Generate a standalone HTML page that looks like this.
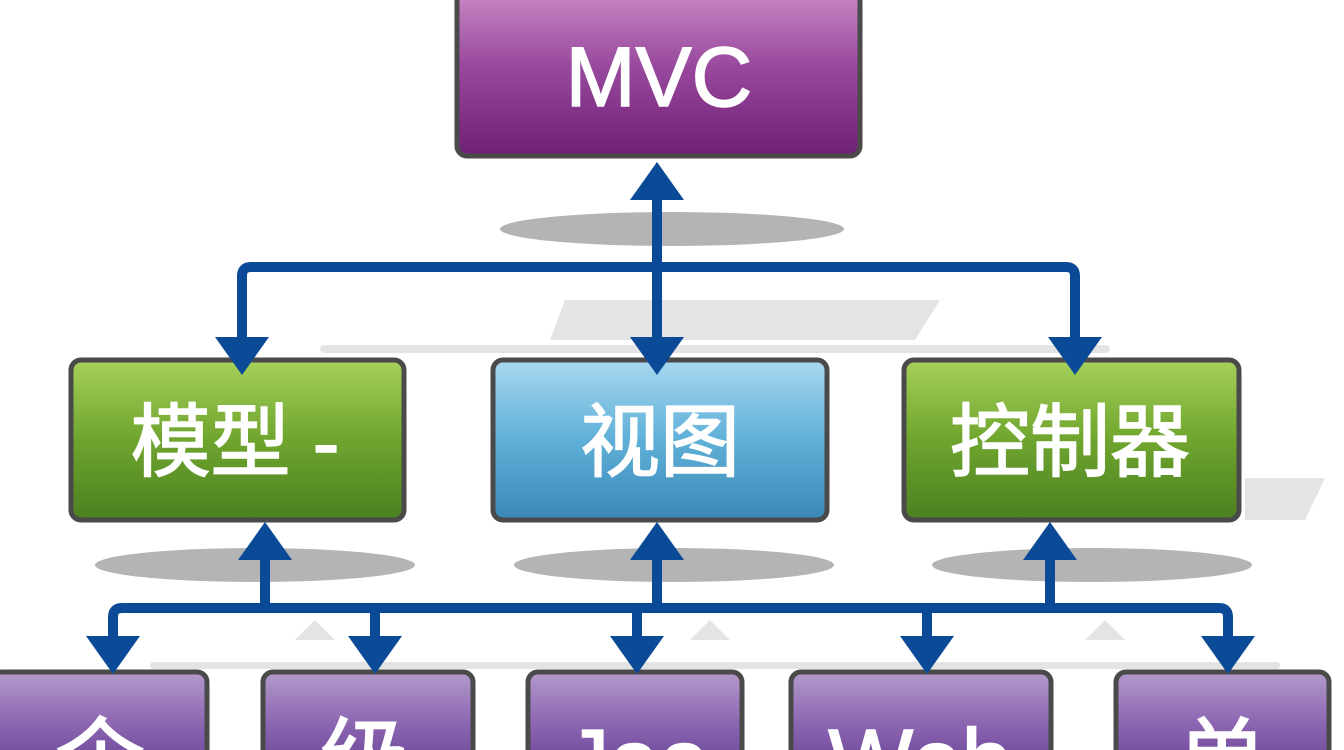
<!DOCTYPE html>
<html><head><meta charset="utf-8"><style>
html,body{margin:0;padding:0;background:#fff;width:1344px;height:750px;overflow:hidden}
svg{display:block}
text{font-family:"Liberation Sans","Noto Sans CJK SC",sans-serif;fill:#fff}
</style></head><body>
<svg width="1344" height="750" viewBox="0 0 1344 750" xmlns="http://www.w3.org/2000/svg" style="overflow:hidden">
<defs>
<linearGradient id="pu" x1="0" y1="0" x2="0" y2="1"><stop offset="0" stop-color="#c98ac6"/><stop offset="0.45" stop-color="#9a4a9e"/><stop offset="1" stop-color="#6e2075"/></linearGradient>
<linearGradient id="gr" x1="0" y1="0" x2="0" y2="1"><stop offset="0" stop-color="#a6d05a"/><stop offset="0.5" stop-color="#6fa52e"/><stop offset="1" stop-color="#4b8020"/></linearGradient>
<linearGradient id="bl" x1="0" y1="0" x2="0" y2="1"><stop offset="0" stop-color="#a8d8f0"/><stop offset="0.5" stop-color="#5fb0d8"/><stop offset="1" stop-color="#3a88b8"/></linearGradient>
<linearGradient id="vi" x1="0" y1="0" x2="0" y2="1"><stop offset="0" stop-color="#b399cc"/><stop offset="0.6" stop-color="#8a64b0"/><stop offset="1" stop-color="#6f4a9a"/></linearGradient>
</defs>
<g fill="#e4e4e4">
<polygon points="565,300 940,300 915,340 550,340"/>
<rect x="320" y="345" width="790" height="8" rx="4"/>
<polygon points="1245,478 1325,478 1305,520 1245,520"/>
<rect x="150" y="662" width="1130" height="7" rx="3"/>
<polygon points="295,640 315,620 335,640"/>
<polygon points="690,640 710,620 730,640"/>
<polygon points="1085,640 1105,620 1125,640"/>
</g>
<g fill="#b4b4b4">
<ellipse cx="672" cy="229" rx="172" ry="17"/>
<ellipse cx="255" cy="565" rx="160" ry="17"/>
<ellipse cx="674" cy="565" rx="160" ry="17"/>
<ellipse cx="1092" cy="565" rx="160" ry="17"/>
</g>
<g stroke="#4a4a4a" stroke-width="5">
<rect x="457" y="-10" width="403" height="166" rx="10" fill="url(#pu)"/>
<rect x="71" y="360" width="333" height="160" rx="10" fill="url(#gr)"/>
<rect x="493" y="360" width="334" height="160" rx="10" fill="url(#bl)"/>
<rect x="904" y="360" width="335" height="160" rx="10" fill="url(#gr)"/>
<rect x="-8" y="672" width="215" height="90" rx="10" fill="url(#vi)"/>
<rect x="263" y="672" width="210" height="90" rx="10" fill="url(#vi)"/>
<rect x="528" y="672" width="214" height="90" rx="10" fill="url(#vi)"/>
<rect x="791" y="672" width="260" height="90" rx="10" fill="url(#vi)"/>
<rect x="1116" y="672" width="213" height="90" rx="10" fill="url(#vi)"/>
</g>
<g text-anchor="middle" stroke="#fff" stroke-width="1.5">
<text x="659" y="106" font-size="84">MVC</text>
<text x="235" y="470" font-size="80">模型 -</text>
<text x="660" y="470" font-size="80">视图</text>
<text x="1070" y="470" font-size="80">控制器</text>
<text x="100" y="792" font-size="90">企</text>
<text x="365" y="792" font-size="90">级</text>
<text x="637" y="792" font-size="90">Jaa</text>
<text x="920" y="792" font-size="90">Web</text>
<text x="1222" y="792" font-size="90">单</text>
</g>
<g fill="none" stroke="#0b4a96" stroke-width="10" stroke-linejoin="round">
<path d="M242 340 V276 Q242 267 251 267 H1066 Q1075 267 1075 276 V340"/>
<line x1="657" y1="195" x2="657" y2="340"/>
<path d="M113 640 V617 Q113 608 122 608 H1219 Q1228 608 1228 617 V640"/>
<line x1="265" y1="555" x2="265" y2="608"/>
<line x1="657" y1="555" x2="657" y2="608"/>
<line x1="1050" y1="555" x2="1050" y2="608"/>
<line x1="375" y1="608" x2="375" y2="640"/>
<line x1="637" y1="608" x2="637" y2="640"/>
<line x1="927" y1="608" x2="927" y2="640"/>
</g>
<g fill="#0b4a96">
<polygon points="630,200 684,200 657,162"/>
<polygon points="630,337 684,337 657,375"/>
<polygon points="215,337 269,337 242,375"/>
<polygon points="1048,337 1102,337 1075,375"/>
<polygon points="238,560 292,560 265,522"/>
<polygon points="630,560 684,560 657,522"/>
<polygon points="1023,560 1077,560 1050,522"/>
<polygon points="86,636 140,636 113,674"/>
<polygon points="348,636 402,636 375,674"/>
<polygon points="610,636 664,636 637,674"/>
<polygon points="900,636 954,636 927,674"/>
<polygon points="1201,636 1255,636 1228,674"/>
</g>
</svg>
</body></html>
